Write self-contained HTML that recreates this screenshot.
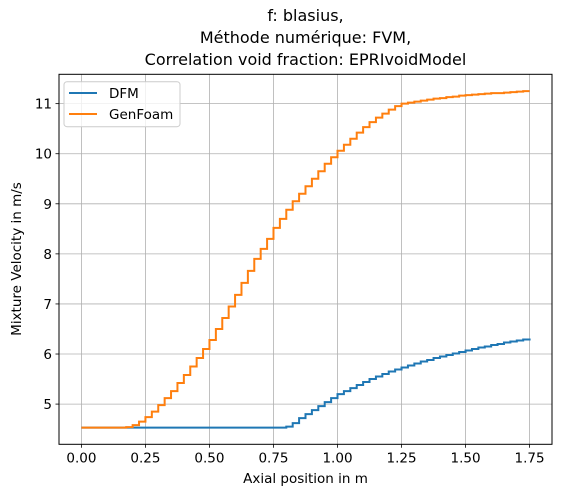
<!DOCTYPE html>
<html><head><meta charset="utf-8">
<style>
body{margin:0;background:#fff;font-family:"Liberation Sans","DejaVu Sans",sans-serif;}
svg text{font-family:"DejaVu Sans","Liberation Sans",sans-serif;}
</style></head>
<body>
<svg id="chart" width="563" height="497" xmlns="http://www.w3.org/2000/svg">
<rect width="563" height="497" fill="#fff"/>
<g id="title" font-size="16" text-anchor="middle" fill="#000">
<text x="305.5" y="21">f: blasius,</text>
<text x="305.5" y="43">Méthode numérique: FVM,</text>
<text x="305.5" y="65">Correlation void fraction: EPRIvoidModel</text>
</g>
<g id="grid"></g>
<g id="series"></g>
<rect x="59" y="74.3" width="493" height="370" fill="none" stroke="#000" stroke-width="1"/>
<g id="xticks"></g>
<g id="yticks"></g>
<text x="305.5" y="483" font-size="13.5" text-anchor="middle">Axial position in m</text>
<text transform="translate(21,259) rotate(-90)" font-size="13.5" text-anchor="middle">Mixture Velocity in m/s</text>
<g>
<rect x="64" y="81.7" width="116" height="45" rx="3" fill="#fff" fill-opacity="0.8" stroke="#ccc"/>
<line x1="69" y1="93" x2="97" y2="93" stroke="#1f77b4" stroke-width="2"/>
<text x="109" y="98" font-size="13.5">DFM</text>
<line x1="69" y1="114" x2="97" y2="114" stroke="#ff7f0e" stroke-width="2"/>
<text x="109" y="119" font-size="13.5">GenFoam</text>
</g>
</svg>
<script>
const xPositions=[0,0.025,0.05,0.075,0.1,0.125,0.15,0.175,0.2,0.225,0.25,0.275,0.3,0.325,0.35,0.375,0.4,0.425,0.45,0.475,0.5,0.525,0.55,0.575,0.6,0.625,0.65,0.675,0.7,0.725,0.75,0.775,0.8,0.825,0.85,0.875,0.9,0.925,0.95,0.975,1.0,1.025,1.05,1.075,1.1,1.125,1.15,1.175,1.2,1.225,1.25,1.275,1.3,1.325,1.35,1.375,1.4,1.425,1.45,1.475,1.5,1.525,1.55,1.575,1.6,1.625,1.65,1.675,1.7,1.725,1.75];
const dfmValues=[4.53,4.53,4.53,4.53,4.53,4.53,4.53,4.53,4.53,4.53,4.53,4.53,4.53,4.53,4.53,4.53,4.53,4.53,4.53,4.53,4.53,4.53,4.53,4.53,4.53,4.53,4.53,4.53,4.53,4.53,4.53,4.53,4.55,4.62,4.72,4.8,4.88,4.96,5.04,5.12,5.2,5.26,5.32,5.38,5.44,5.5,5.55,5.6,5.65,5.69,5.73,5.77,5.81,5.85,5.88,5.92,5.95,5.98,6.01,6.04,6.07,6.1,6.13,6.15,6.18,6.2,6.23,6.25,6.27,6.29,6.31];
const genfoamValues=[4.53,4.53,4.53,4.53,4.53,4.53,4.53,4.54,4.58,4.65,4.74,4.85,4.98,5.12,5.26,5.42,5.58,5.75,5.92,6.1,6.28,6.5,6.72,6.95,7.18,7.42,7.66,7.9,8.1,8.3,8.52,8.7,8.88,9.05,9.2,9.35,9.5,9.65,9.8,9.93,10.06,10.18,10.3,10.42,10.53,10.63,10.72,10.8,10.88,10.95,11.0,11.02,11.04,11.06,11.08,11.1,11.11,11.13,11.14,11.16,11.17,11.18,11.19,11.2,11.21,11.21,11.22,11.23,11.24,11.25,11.25];
const xTickValues=[0,0.25,0.5,0.75,1.0,1.25,1.5,1.75];
const xTickLabels=["0.00","0.25","0.50","0.75","1.00","1.25","1.50","1.75"];
const yTickValues=[5,6,7,8,9,10,11];
const yTickLabels=["5","6","7","8","9","10","11"];

const X0=59,X1=552,Y0=74.3,Y1=444.3;
const xMin=-0.0875,xMax=1.8375,yMin=4.197,yMax=11.586;
const xs=v=>X0+(v-xMin)/(xMax-xMin)*(X1-X0);
const ys=v=>Y1-(v-yMin)/(yMax-yMin)*(Y1-Y0);
const NS="http://www.w3.org/2000/svg";
function mk(tag,attrs,parent){const e=document.createElementNS(NS,tag);for(const k in attrs)e.setAttribute(k,attrs[k]);parent.appendChild(e);return e;}
const grid=document.getElementById('grid'),xt=document.getElementById('xticks'),yt=document.getElementById('yticks'),ser=document.getElementById('series');
xTickValues.forEach((v,i)=>{
  const x=xs(v);
  const g=mk('line',{x1:x,x2:x,y1:Y0,y2:Y1,stroke:'#b0b0b0','stroke-width':0.8},grid);
  
  
  const t=mk('line',{x1:x,x2:x,y1:Y1,y2:Y1+3.5,stroke:'#000','stroke-width':0.8},xt);
  
  
  const l=mk('text',{x:x,y:Y1+18,'font-size':13.5,'text-anchor':'middle'},xt);
  l.textContent=xTickLabels[i];
  
  
});
yTickValues.forEach((v,i)=>{
  const y=ys(v);
  const g=mk('line',{x1:X0,x2:X1,y1:y,y2:y,stroke:'#b0b0b0','stroke-width':0.8},grid);
  
  
  const t=mk('line',{x1:X0-3.5,x2:X0,y1:y,y2:y,stroke:'#000','stroke-width':0.8},yt);
  
  
  const l=mk('text',{x:X0-7,y:y+5,'font-size':13.5,'text-anchor':'end'},yt);
  l.textContent=yTickLabels[i];
  
  
});
function stepPath(vals){
  let d='M'+xs(xPositions[0])+','+ys(vals[0]);
  for(let i=1;i<vals.length;i++){d+=' L'+xs(xPositions[i])+','+ys(vals[i-1])+' L'+xs(xPositions[i])+','+ys(vals[i]);}
  return d;
}
const p1=mk('path',{d:stepPath(dfmValues),fill:'none',stroke:'#1f77b4','stroke-width':2},ser);


const p2=mk('path',{d:stepPath(genfoamValues),fill:'none',stroke:'#ff7f0e','stroke-width':2},ser);


</script>
</body></html>
